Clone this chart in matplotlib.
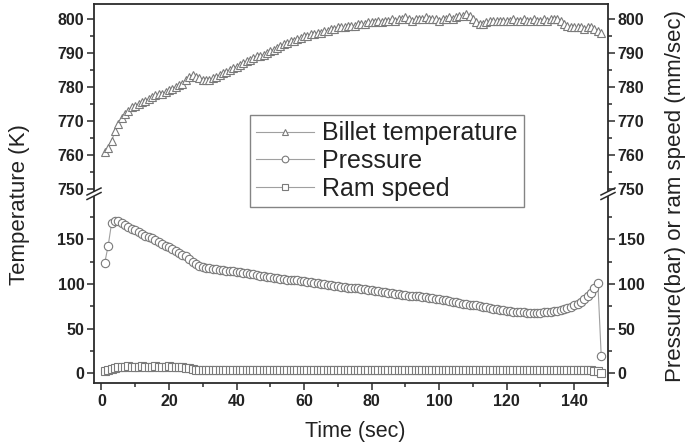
import matplotlib
matplotlib.use("Agg")
import matplotlib.pyplot as plt
from matplotlib.lines import Line2D
from matplotlib.ticker import MultipleLocator

plt.rcParams['font.family'] = ['Liberation Sans', 'DejaVu Sans']

# ---------------- data ----------------
time_sec = [1, 2, 3, 4, 5, 6, 7, 8, 9, 10, 11, 12, 13, 14, 15, 16, 17, 18, 19, 20,
            21, 22, 23, 24, 25, 26, 27, 28, 29, 30, 31, 32, 33, 34, 35, 36, 37, 38, 39, 40,
            41, 42, 43, 44, 45, 46, 47, 48, 49, 50, 51, 52, 53, 54, 55, 56, 57, 58, 59, 60,
            61, 62, 63, 64, 65, 66, 67, 68, 69, 70, 71, 72, 73, 74, 75, 76, 77, 78, 79, 80,
            81, 82, 83, 84, 85, 86, 87, 88, 89, 90, 91, 92, 93, 94, 95, 96, 97, 98, 99, 100,
            101, 102, 103, 104, 105, 106, 107, 108, 109, 110, 111, 112, 113, 114, 115, 116, 117, 118, 119, 120,
            121, 122, 123, 124, 125, 126, 127, 128, 129, 130, 131, 132, 133, 134, 135, 136, 137, 138, 139, 140,
            141, 142, 143, 144, 145, 146, 147, 148]

billet_temp = [761, 762, 764, 767, 769, 771, 772, 773, 774, 774.5,
               775, 775.5, 776, 776.5, 777, 777.5, 778, 778, 778.5, 779,
               779.5, 780, 780.5, 781, 782, 783, 783.5, 783, 782.5, 782,
               782, 782, 782.5, 783, 783.5, 784, 784.5, 785, 785.5, 786,
               786.5, 787, 787.5, 788, 788.5, 789, 789, 789.5, 790, 790.5,
               791, 791.5, 792, 792.5, 793, 793.5, 793.5, 794, 794.5, 795,
               795, 795.5, 795.5, 796, 796, 796.5, 796.5, 797, 797, 797.5,
               797.5, 797.5, 798, 798, 798, 798.5, 798.5, 798.5, 799, 799,
               799, 799.5, 799, 799.5, 799.5, 800, 799.5, 800, 800, 800.5,
               800, 799.5, 800, 800, 800, 800.5, 800, 800, 800, 799.5,
               800, 800, 800.5, 800, 800.5, 801, 801, 801.5, 801, 800,
               799, 798.5, 798.5, 799, 799.5, 799.5, 799.5, 799.5, 799.5, 799.5,
               799.5, 800, 799.5, 799.5, 800, 799.5, 799.5, 800, 799.5, 799.5,
               800, 799.5, 800, 800, 800, 799.5, 798.5, 798, 797.5, 797.5,
               797.5, 797.5, 797, 797.5, 797.5, 797, 796.5, 796]

pressure = [124, 143, 168, 171, 170, 168, 166, 164, 162, 160,
            158, 156, 154, 153, 151, 149, 147, 145, 143, 141,
            139, 137, 135, 133, 131, 128, 125, 122, 120, 119,
            118, 118, 117, 117, 116, 116, 115, 115, 114, 113,
            113, 112, 112, 111, 111, 110, 109, 109, 108, 108,
            107, 107, 106, 106, 105, 105, 104, 104, 103, 103,
            102, 102, 101, 101, 100, 100, 99, 99, 98, 98,
            97, 97, 96, 96, 95, 95, 94, 94, 93, 93,
            92, 92, 91, 91, 90, 90, 89, 89, 88, 88,
            87, 87, 86, 86, 85, 85, 84, 84, 83, 83,
            82, 82, 81, 80, 80, 79, 78, 78, 77, 76,
            76, 75, 74, 74, 73, 72, 72, 71, 71, 70,
            70, 69, 69, 69, 69, 68, 68, 68, 68, 68,
            69, 69, 69, 70, 70, 71, 72, 73, 74, 76,
            78, 80, 83, 87, 90, 95, 101, 19]

ram_speed = [2, 4, 5, 6, 7, 7, 7, 8, 7, 7,
             7, 8, 7, 7, 7, 8, 7, 7, 7, 8,
             7, 7, 7, 7, 6, 6, 5, 4, 4, 4,
             4, 4, 4, 4, 4, 4, 4, 4, 4, 4,
             4, 4, 4, 4, 4, 4, 4, 4, 4, 4,
             4, 4, 4, 4, 4, 4, 4, 4, 4, 4,
             4, 4, 4, 4, 4, 4, 4, 4, 4, 4,
             4, 4, 4, 4, 4, 4, 4, 4, 4, 4,
             4, 4, 4, 4, 4, 4, 4, 4, 4, 4,
             4, 4, 4, 4, 4, 4, 4, 4, 4, 4,
             4, 4, 4, 4, 4, 4, 4, 4, 4, 4,
             4, 4, 4, 4, 4, 4, 4, 4, 4, 4,
             4, 4, 4, 4, 4, 4, 4, 4, 4, 4,
             4, 4, 4, 4, 4, 4, 4, 4, 4, 4,
             4, 4, 4, 4, 4, 3, 2, 0]

x_ticks = [0, 20, 40, 60, 80, 100, 120, 140]
top_ticks = [750, 760, 770, 780, 790, 800]
bottom_ticks = [0, 50, 100, 150]
series_labels = ["Billet temperature", "Pressure", "Ram speed"]

# ---------------- layout ----------------
W, H = 689, 442
fig = plt.figure(figsize=(W / 100, H / 100), dpi=100)


def fx(px):
    return px / W


def fy(py):
    return 1 - py / H


left_px, right_px = 94, 608
top_px, gap_top_px, gap_bot_px, bottom_px = 4, 191, 196.5, 383

ax_top = fig.add_axes([fx(left_px), fy(gap_top_px), fx(right_px) - fx(left_px), fy(top_px) - fy(gap_top_px)])
ax_bot = fig.add_axes([fx(left_px), fy(bottom_px), fx(right_px) - fx(left_px), fy(gap_bot_px) - fy(bottom_px)])

spine_col = '#2b2b2b'
line_col = '#a0a0a0'
mk_col = '#7a7a7a'
common = dict(color=line_col, lw=0.8, mfc='white', mec=mk_col, mew=0.8)

h1, = ax_top.plot(time_sec, billet_temp, marker='^', ms=6, label=series_labels[0], **common)
h2, = ax_bot.plot(time_sec, pressure, marker='o', ms=6, label=series_labels[1], **common)
h3, = ax_bot.plot(time_sec, ram_speed, marker='s', ms=5.5, label=series_labels[2], **common)

ax_top.set_ylim(749.4, 804.4)
ax_bot.set_ylim(-10.9, 198)
for ax in (ax_top, ax_bot):
    ax.set_xlim(-2.2, 150)
    for s in ax.spines.values():
        s.set_color(spine_col)
        s.set_linewidth(1.3)
    ax.tick_params(axis='y', which='both', direction='out', left=True, right=True,
                   labelleft=True, labelright=True, color=spine_col, width=1.1)
    ax.tick_params(axis='y', which='major', length=5, pad=2)
    ax.tick_params(axis='y', which='minor', length=3)

ax_top.spines['bottom'].set_visible(False)
ax_bot.spines['top'].set_visible(False)

ax_top.set_yticks(top_ticks)
ax_top.yaxis.set_minor_locator(MultipleLocator(5))
ax_top.tick_params(axis='x', which='both', bottom=False, top=False, labelbottom=False)

ax_bot.set_yticks(bottom_ticks)
ax_bot.yaxis.set_minor_locator(MultipleLocator(25))
ax_bot.set_xticks(x_ticks)
ax_bot.xaxis.set_minor_locator(MultipleLocator(10))
ax_bot.tick_params(axis='x', which='both', direction='out', top=False, color=spine_col, width=1.1)
ax_bot.tick_params(axis='x', which='major', length=5, pad=3)
ax_bot.tick_params(axis='x', which='minor', length=3)

for ax in (ax_top, ax_bot):
    for lab in ax.get_yticklabels() + ax.get_xticklabels():
        lab.set_fontweight('bold')
        lab.set_fontsize(11.5)
        lab.set_color('#222222')

# break marks
for xp in (left_px, right_px):
    for yc in (gap_top_px + 0.5, gap_bot_px - 0.5):
        fig.add_artist(Line2D([fx(xp - 7), fx(xp + 7)], [fy(yc + 3.5), fy(yc - 3.5)],
                              transform=fig.transFigure, color=spine_col, lw=1.1))

# axis labels
fig.text(fx(20), fy(205), "Temperature (K)", rotation=90, ha='center', va='center',
         fontsize=16, color='#222222')
fig.text(fx(676), fy(196), "Pressure(bar) or ram speed (mm/sec)", rotation=90,
         ha='center', va='center', fontsize=16, color='#222222')
fig.text(fx(355), fy(431), "Time (sec)", ha='center', va='center', fontsize=15.5, color='#222222')

leg = fig.legend([h1, h2, h3], series_labels, loc='upper left',
                 bbox_to_anchor=(fx(250), fy(115)), borderaxespad=0,
                 fontsize=18, frameon=True, fancybox=False, edgecolor='#666666',
                 handlelength=2.3, handletextpad=0.35, labelspacing=0.15,
                 borderpad=0.25, markerscale=0.8)
leg.get_frame().set_linewidth(1.0)
for t in leg.get_texts():
    t.set_color('#222222')

fig.savefig("out.png", dpi=100)
